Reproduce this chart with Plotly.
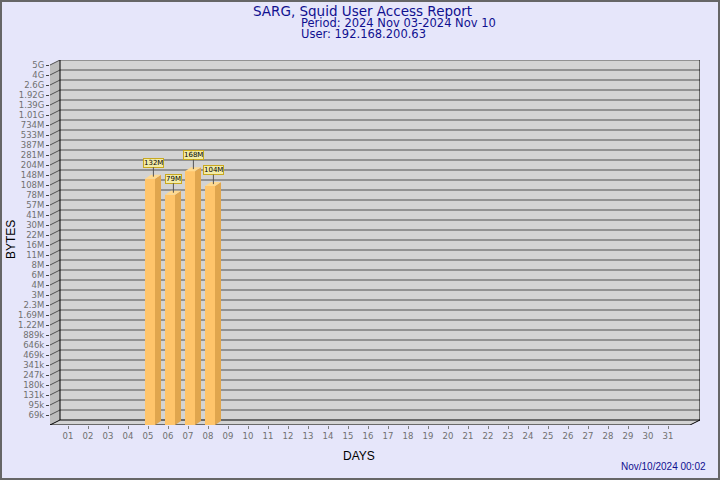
import math
import plotly.graph_objects as go

# ---------------- data ----------------
days = list(range(1, 32))
day_labels = [f"{d:02d}" for d in days]

bar_days = [5, 6, 7, 8]
bar_values = [132e6, 79e6, 168e6, 104e6]
bar_labels = ["132M", "79M", "168M", "104M"]

tick_labels = ["69k", "95k", "131k", "180k", "247k", "341k", "469k", "646k", "889k",
               "1.22M", "1.69M", "2.3M", "3M", "4M", "6M", "8M", "11M", "16M", "22M",
               "30M", "41M", "57M", "78M", "108M", "148M", "204M", "281M", "387M",
               "533M", "734M", "1.01G", "1.39G", "1.92G", "2.6G", "4G", "5G"]
tick_low, tick_high = 69e3, 5e9

title_line1 = "SARG, Squid User Access Report"
title_line2 = "Period: 2024 Nov 03-2024 Nov 10"
title_line3 = "User: 192.168.200.63"
stamp = "Nov/10/2024 00:02"

# ---------------- scales ----------------
N = len(tick_labels)
ratio = (tick_high / tick_low) ** (1.0 / (N - 1))
tick_vals = [tick_low * ratio ** i for i in range(N)]
step = math.log10(ratio)
y_lo = math.log10(tick_low) - step
y_hi = math.log10(tick_high) + 0.5 * step
x_lo, x_hi = 0.1, 32.6
BOT, TOP = 10 ** y_lo, 10 ** y_hi

WDX, WF = 0.5, ratio ** 0.5      # wall depth
BDX, BF = 0.3, ratio ** 0.4      # bar depth
BAR_W = 0.5
BAR_OFF = 0.1

ML, MR, MT, MB = 50, 20, 60, 55
W, H = 720, 480
PW, PH = W - ML - MR, H - MT - MB


def px(x, y):
    return (x - ML) / PW, (H - MB - y) / PH


def path(pts, close=True):
    s = "M " + " L ".join(f"{x:.4f},{y:.3f}" for x, y in pts)
    return s + (" Z" if close else "")


WALL = "#d3d3d3"
SIDE = "#bdbdbd"
GRID = "#505050"

shapes = []
# back wall
shapes.append(dict(type="path", xref="x", yref="y", layer="below",
                   path=path([(x_lo + WDX, BOT * WF), (x_hi, BOT * WF), (x_hi, TOP), (x_lo + WDX, TOP)]),
                   fillcolor=WALL, line=dict(width=0)))
# left wall
shapes.append(dict(type="path", xref="x", yref="y", layer="below",
                   path=path([(x_lo, BOT), (x_lo + WDX, BOT * WF), (x_lo + WDX, TOP), (x_lo, tick_high)]),
                   fillcolor=SIDE, line=dict(width=0)))
# floor
shapes.append(dict(type="path", xref="x", yref="y", layer="below",
                   path=path([(x_lo, BOT), (x_lo + WDX, BOT * WF), (x_hi, BOT * WF), (x_hi - WDX, BOT)]),
                   fillcolor=WALL, line=dict(width=0)))
# grid lines
for v in tick_vals:
    shapes.append(dict(type="path", xref="x", yref="y", layer="below",
                       path=path([(x_lo, v), (x_lo + WDX, v * WF), (x_hi, v * WF)], close=False),
                       line=dict(color=GRID, width=1)))
# frame edges
edges = [
    [(x_lo + WDX, TOP), (x_lo + WDX, BOT * WF), (x_hi, BOT * WF), (x_hi, TOP)],
    [(x_lo, BOT), (x_hi - WDX, BOT), (x_hi, BOT * WF)],
    [(x_lo, BOT), (x_lo + WDX, BOT * WF)],
]
for e in edges:
    shapes.append(dict(type="path", xref="x", yref="y", layer="below",
                       path=path(e, close=False), line=dict(color="black", width=1)))
# outer border
bx0, by0 = px(1, H - 1)
bx1, by1 = px(W - 1, 1)
shapes.append(dict(type="rect", xref="paper", yref="paper", x0=bx0, y0=by0, x1=bx1, y1=by1,
                   line=dict(color="#666666", width=2), layer="above"))

fig = go.Figure()

front_x = [d + BAR_OFF for d in bar_days]
fig.add_trace(go.Bar(x=front_x, y=bar_values, base=[BOT] * len(bar_values), width=BAR_W,
                     marker=dict(color="#ffc56b", line=dict(width=0)), hoverinfo="skip"))

side_x, side_y, top_x, top_y = [], [], [], []
for xc, v in zip(front_x, bar_values):
    x1 = xc + BAR_W / 2
    x0 = xc - BAR_W / 2
    side_x += [x1, x1 + BDX, x1 + BDX, x1, x1, None]
    side_y += [BOT, BOT * BF, v * BF, v, BOT, None]
    top_x += [x0, x0 + BDX, x1 + BDX, x1, x0, None]
    top_y += [v, v * BF, v * BF, v, v, None]
fig.add_trace(go.Scatter(x=side_x, y=side_y, mode="lines", fill="toself",
                         fillcolor="#e0a64e", line=dict(width=0), hoverinfo="skip"))
fig.add_trace(go.Scatter(x=top_x, y=top_y, mode="lines", fill="toself",
                         fillcolor="#ffda90", line=dict(width=0), hoverinfo="skip"))

annotations = []
for xc, v, lab in zip(front_x, bar_values, bar_labels):
    annotations.append(dict(x=xc + BDX / 2 + 0.02, y=math.log10(v * ratio ** 0.2), xref="x", yref="y",
                            text=lab, showarrow=True, arrowhead=0, arrowwidth=1,
                            arrowcolor="#555555", ax=0, ay=-14,
                            font=dict(family="DejaVu Sans", size=7, color="black"),
                            bgcolor="#f2eca8", bordercolor="#c8a820", borderwidth=1, borderpad=0))

TITLE_C = "#101090"
x, y = px(362, 11)
annotations.append(dict(x=x, y=y, xref="paper", yref="paper", text=title_line1, showarrow=False,
                        xanchor="center", yanchor="middle", borderpad=0,
                        font=dict(family="DejaVu Sans", size=13.5, color=TITLE_C)))
x, y = px(300, 22.5)
annotations.append(dict(x=x, y=y, xref="paper", yref="paper", text=title_line2, showarrow=False,
                        xanchor="left", yanchor="middle", borderpad=0,
                        font=dict(family="DejaVu Sans", size=11.5, color=TITLE_C)))
x, y = px(300, 33.5)
annotations.append(dict(x=x, y=y, xref="paper", yref="paper", text=title_line3, showarrow=False,
                        xanchor="left", yanchor="middle", borderpad=0,
                        font=dict(family="DejaVu Sans", size=11.5, color=TITLE_C)))
x, y = px(359, 456)
annotations.append(dict(x=x, y=y, xref="paper", yref="paper", text="DAYS", showarrow=False,
                        xanchor="center", yanchor="middle",
                        font=dict(family="Liberation Sans", size=12, color="black")))
x, y = px(11, 240)
annotations.append(dict(x=x, y=y, xref="paper", yref="paper", text="BYTES", showarrow=False,
                        xanchor="center", yanchor="middle", textangle=-90,
                        font=dict(family="Liberation Sans", size=12, color="black")))
x, y = px(708, 466)
annotations.append(dict(x=x, y=y, xref="paper", yref="paper", text=stamp, showarrow=False,
                        xanchor="right", yanchor="middle",
                        font=dict(family="Liberation Sans", size=10, color=TITLE_C)))

fig.update_layout(
    width=W, height=H,
    margin=dict(l=ML, r=MR, t=MT, b=MB, autoexpand=False),
    paper_bgcolor="#e6e6fa", plot_bgcolor="#e6e6fa",
    showlegend=False,
    shapes=shapes,
    annotations=annotations,
    xaxis=dict(range=[x_lo, x_hi], tickvals=days, ticktext=day_labels,
               showgrid=False, zeroline=False, showline=False,
               ticks="outside", ticklen=3, tickcolor="#808080",
               tickfont=dict(family="DejaVu Sans", size=8.5, color="#707070"), fixedrange=True),
    yaxis=dict(type="log", range=[y_lo, y_hi], tickvals=tick_vals, ticktext=tick_labels,
               showgrid=False, zeroline=False, showline=False,
               ticks="outside", ticklen=3, tickcolor="#404040",
               tickfont=dict(family="DejaVu Sans", size=8.5, color="#707070"), fixedrange=True),
)

fig.write_html("out.html", config={"displayModeBar": False},
               post_script="document.body.style.margin='0';document.body.style.overflow='hidden';")
